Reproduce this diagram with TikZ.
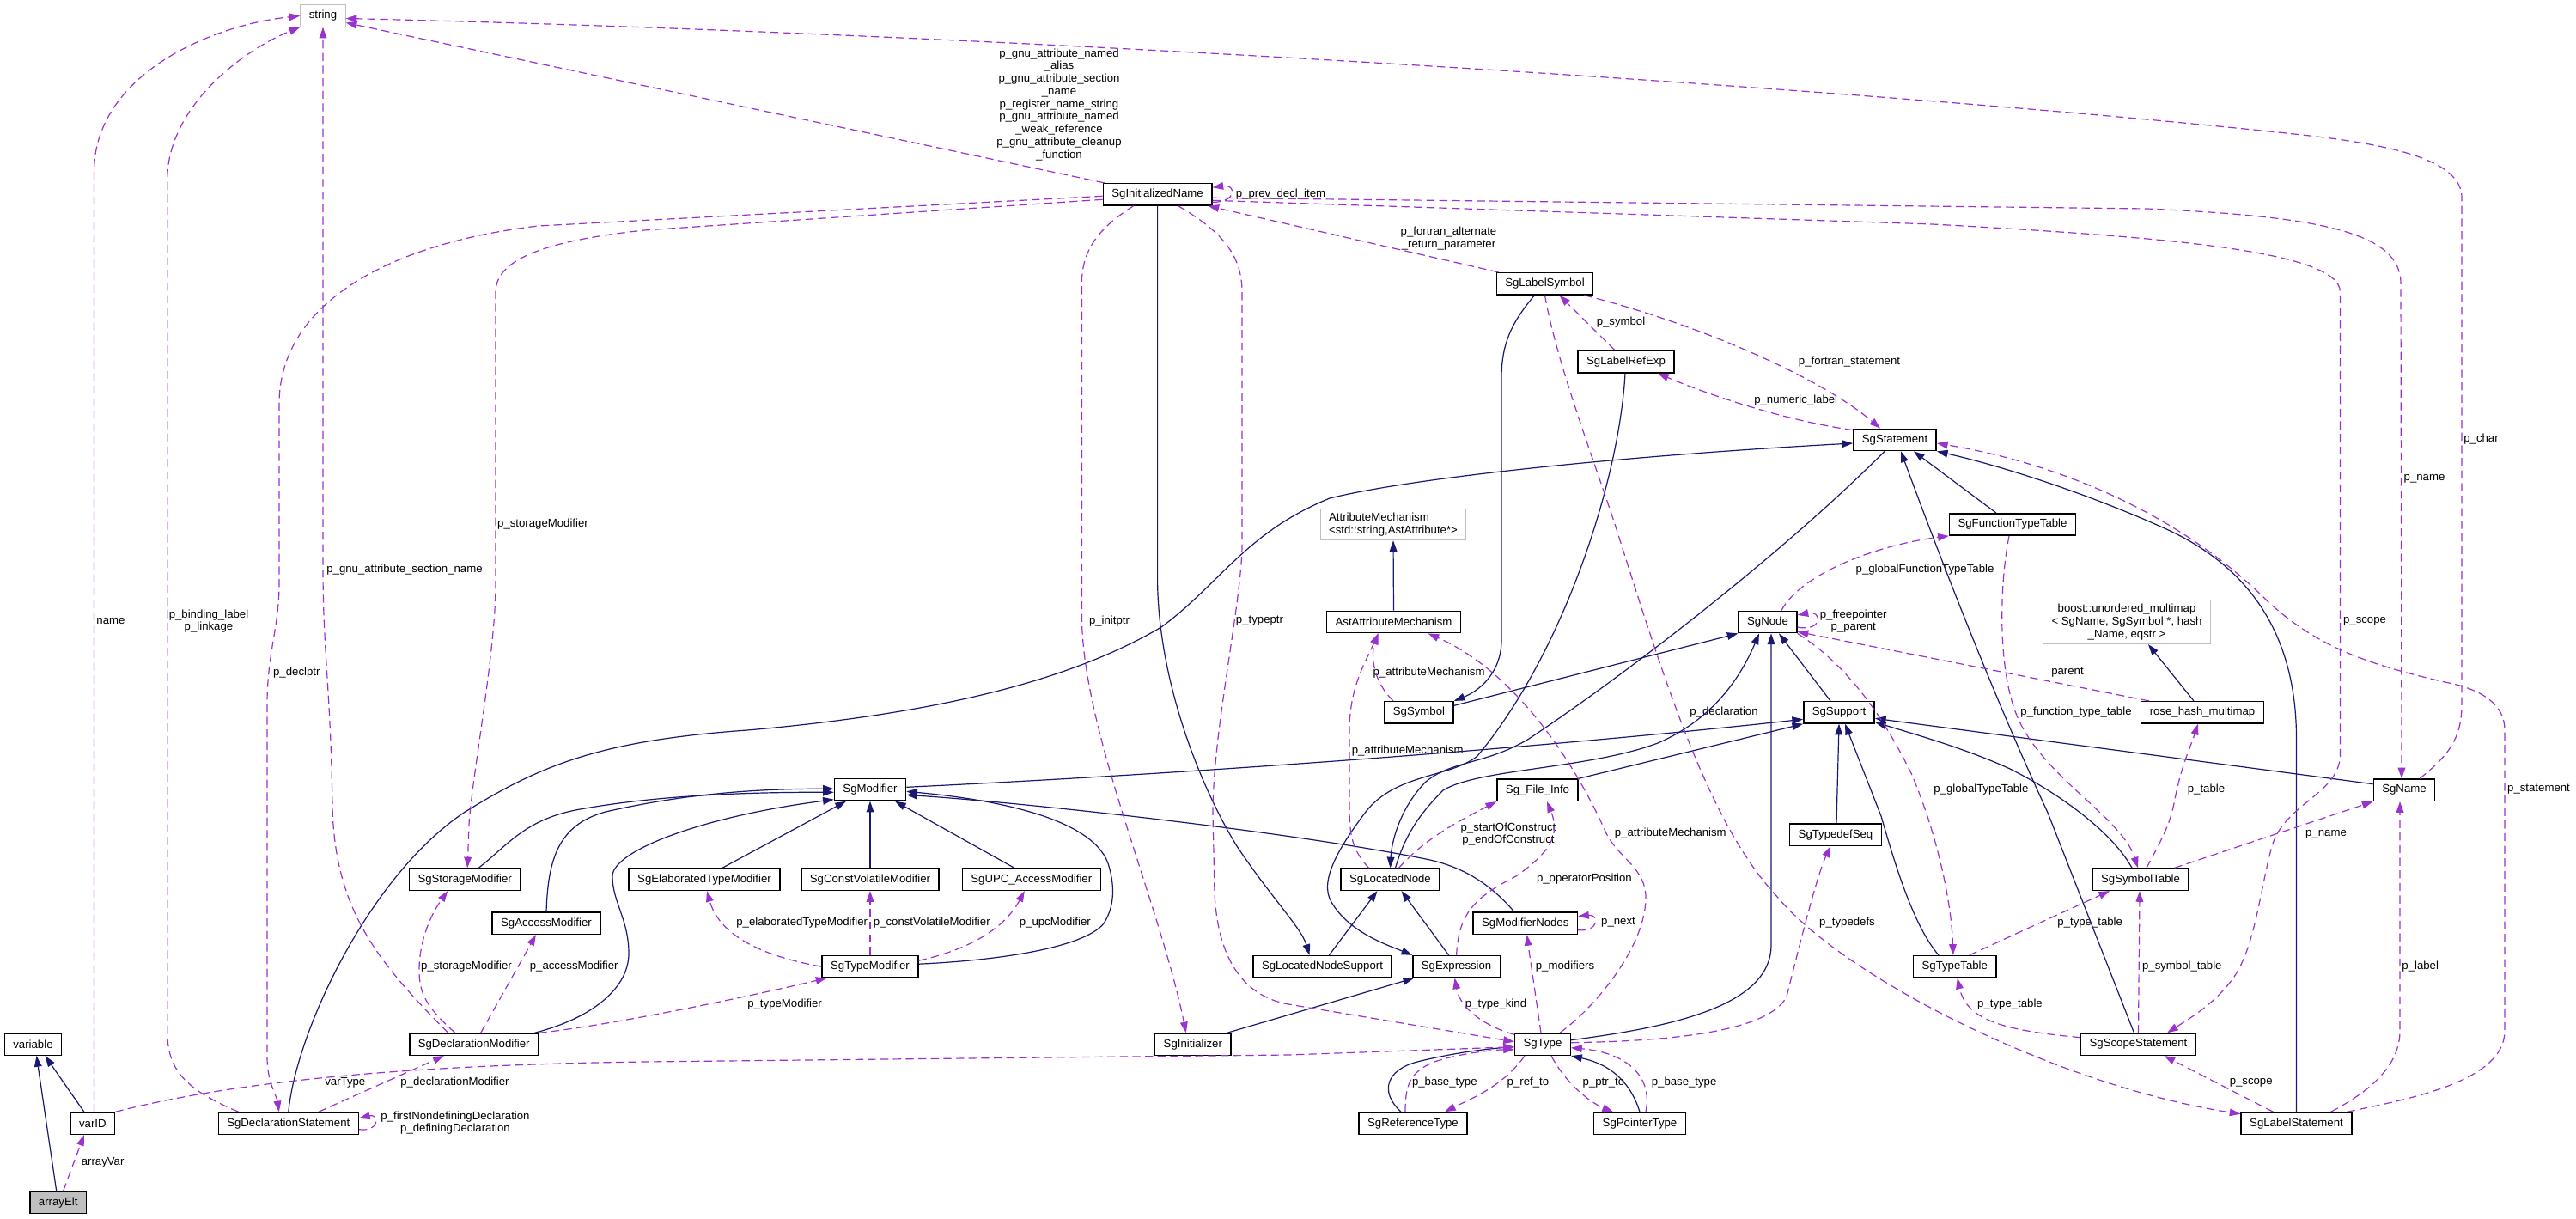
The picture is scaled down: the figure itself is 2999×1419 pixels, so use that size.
\documentclass[tikz,border=0pt]{standalone}
\usepackage{fontspec}
\setmainfont{Liberation Sans}
\usetikzlibrary{calc,arrows.meta}
\definecolor{navy}{HTML}{191970}
\definecolor{orchid}{HTML}{9A32CD}
\definecolor{extgray}{HTML}{BFBFBF}
\begin{document}
\begin{tikzpicture}[x=0.75pt, y=-0.75pt,
  every node/.style={font=\fontsize{9.9pt}{11.06pt}\selectfont},
  cls/.style={draw=black, line width=1.1pt, fill=white, minimum height=19pt, inner xsep=7.5pt, inner ysep=3.5pt},
  ext/.style={cls, draw=extgray, line width=0.9pt},
  cur/.style={cls, fill=extgray},
  inh/.style={draw=navy, line width=0.9pt, -{Triangle[length=9.5pt,width=6.5pt]}},
  use/.style={draw=orchid, line width=0.9pt, dash pattern=on 7pt off 4pt, -{Triangle[length=9.5pt,width=6.5pt]}},
  lbl/.style={inner sep=0pt, align=center}]
\fill[white] (0,0) rectangle (2999,1419);
\useasboundingbox (0,0) rectangle (2999,1419);

% classes
\node[ext] (string) at (376,18.5) {string};
\node[cls] (SgInitializedName) at (1347.6,226.3) {SgInitializedName};
\node[cls] (SgLabelSymbol) at (1798.5,330.3) {SgLabelSymbol};
\node[cls] (SgLabelRefExp) at (1893,421.2) {SgLabelRefExp};
\node[cls] (SgStatement) at (2206,512) {SgStatement};
\node[ext, align=left] (AttributeMechanism) at (1622,610.5) {AttributeMechanism\\<std::string,AstAttribute*>};
\node[cls] (SgFunctionTypeTable) at (2343,610.5) {SgFunctionTypeTable};
\node[cls] (AstAttributeMechanism) at (1622.5,724) {AstAttributeMechanism};
\node[cls] (SgNode) at (2058,724) {SgNode};
\node[ext, align=center] (boostMap) at (2476,724) {boost::unordered\_multimap\\< SgName, SgSymbol *, hash\\\_Name, eqstr >};
\node[cls] (SgSymbol) at (1652,829.3) {SgSymbol};
\node[cls] (SgSupport) at (2141,829.3) {SgSupport};
\node[cls] (roseHash) at (2564,829.3) {rose\_hash\_multimap};
\node[cls] (SgModifier) at (1013,919.3) {SgModifier};
\node[cls] (SgFileInfo) at (1790,919.7) {Sg\_File\_Info};
\node[cls] (SgName) at (2799,919.7) {SgName};
\node[cls] (SgTypedefSeq) at (2137,971.8) {SgTypedefSeq};
\node[cls] (SgStorageModifier) at (541.2,1023.7) {SgStorageModifier};
\node[cls] (SgElaboratedTypeModifier) at (820,1023.7) {SgElaboratedTypeModifier};
\node[cls] (SgConstVolatileModifier) at (1013,1023.7) {SgConstVolatileModifier};
\node[cls] (SgUPCAccessModifier) at (1200.8,1023.7) {SgUPC\_AccessModifier};
\node[cls] (SgLocatedNode) at (1618.5,1023.7) {SgLocatedNode};
\node[cls] (SgSymbolTable) at (2492,1023.7) {SgSymbolTable};
\node[cls] (SgAccessModifier) at (636,1074.7) {SgAccessModifier};
\node[cls] (SgModifierNodes) at (1775.8,1074.7) {SgModifierNodes};
\node[cls] (SgTypeModifier) at (1013,1125.2) {SgTypeModifier};
\node[cls] (SgLocatedNodeSupport) at (1539.5,1125.2) {SgLocatedNodeSupport};
\node[cls] (SgExpression) at (1695.6,1125.2) {SgExpression};
\node[cls] (SgTypeTable) at (2275.8,1125.2) {SgTypeTable};
\node[cls] (variable) at (38.5,1215.7) {variable};
\node[cls] (SgDeclarationModifier) at (551.7,1215.7) {SgDeclarationModifier};
\node[cls] (SgInitializer) at (1388.8,1215.7) {SgInitializer};
\node[cls] (SgType) at (1796,1215.7) {SgType};
\node[cls] (SgScopeStatement) at (2489.5,1215.7) {SgScopeStatement};
\node[cls] (varID) at (107.9,1307.7) {varID};
\node[cls] (SgDeclarationStatement) at (335.8,1307.7) {SgDeclarationStatement};
\node[cls] (SgReferenceType) at (1645,1307.7) {SgReferenceType};
\node[cls] (SgPointerType) at (1909,1307.7) {SgPointerType};
\node[cls] (SgLabelStatement) at (2673.5,1307.7) {SgLabelStatement};
\node[cur] (arrayElt) at (67.7,1399.7) {arrayElt};

% labels
\node[lbl] (lGnu) at (1233,121.7) {p\_gnu\_attribute\_named\\\_alias\\p\_gnu\_attribute\_section\\\_name\\p\_register\_name\_string\\p\_gnu\_attribute\_named\\\_weak\_reference\\p\_gnu\_attribute\_cleanup\\\_function};
\node[lbl] (lPrev) at (1491,226) {p\_prev\_decl\_item};
\node[lbl] (lFortranAlt) at (1686.5,277.8) {p\_fortran\_alternate\\\_return\_parameter};
\node[lbl] (lSymbol) at (1887,375) {p\_symbol};
\node[lbl] (lFortranStmt) at (2153,420.7) {p\_fortran\_statement};
\node[lbl] (lNumeric) at (2090.7,465.7) {p\_numeric\_label};
\node[lbl] (lChar) at (2888.5,510.7) {p\_char};
\node[lbl] (lNameUp) at (2822.5,557) {p\_name};
\node[lbl] (lStorageUp) at (632,610) {p\_storageModifier};
\node[lbl] (lSection) at (471,663) {p\_gnu\_attribute\_section\_name};
\node[lbl] (lGlobalFTT) at (2241,663) {p\_globalFunctionTypeTable};
\node[lbl] (lVarName) at (129,723) {name};
\node[lbl] (lBinding) at (243,723) {p\_binding\_label\\p\_linkage};
\node[lbl] (lInitptr) at (1291.5,723) {p\_initptr};
\node[lbl] (lTypeptr) at (1466.5,723) {p\_typeptr};
\node[lbl] (lParent) at (2157.7,723) {p\_freepointer\\p\_parent};
\node[lbl] (lScopeUp) at (2753,723) {p\_scope};
\node[lbl] (lDeclptr) at (345.3,783) {p\_declptr};
\node[lbl] (lAttrSym) at (1663.6,783) {p\_attributeMechanism};
\node[lbl] (lHashParent) at (2407,783) {parent};
\node[lbl] (lDeclaration) at (2007,829) {p\_declaration};
\node[lbl] (lFuncTable) at (2417,829) {p\_function\_type\_table};
\node[lbl] (lAttrLoc) at (1638.7,873.7) {p\_attributeMechanism};
\node[lbl] (lGlobalTT) at (2306.4,918.7) {p\_globalTypeTable};
\node[lbl] (lTable) at (2568.5,918.7) {p\_table};
\node[lbl] (lStatement) at (2955.5,918.7) {p\_statement};
\node[lbl] (lConstruct) at (1756,971) {p\_startOfConstruct\\p\_endOfConstruct};
\node[lbl] (lAttrType) at (1944.8,970.3) {p\_attributeMechanism};
\node[lbl] (lNameLow) at (2708,971) {p\_name};
\node[lbl] (lOperator) at (1844.4,1022.7) {p\_operatorPosition};
\node[lbl] (lElaborated) at (933.7,1073.7) {p\_elaboratedTypeModifier};
\node[lbl] (lConstVol) at (1084.8,1073.7) {p\_constVolatileModifier};
\node[lbl] (lUpc) at (1228.3,1073.7) {p\_upcModifier};
\node[lbl] (lNext) at (1884,1073.7) {p\_next};
\node[lbl] (lTypedefs) at (2150.5,1073.7) {p\_typedefs};
\node[lbl] (lTypeTableUp) at (2433.2,1073.7) {p\_type\_table};
\node[lbl] (lStorageLow) at (543,1125) {p\_storageModifier};
\node[lbl] (lAccess) at (668.2,1125) {p\_accessModifier};
\node[lbl] (lModifiers) at (1822,1125) {p\_modifiers};
\node[lbl] (lSymTable) at (2540.3,1125) {p\_symbol\_table};
\node[lbl] (lLabel) at (2817.7,1125) {p\_label};
\node[lbl] (lTypeMod) at (913.6,1169.3) {p\_typeModifier};
\node[lbl] (lTypeKind) at (1741.5,1169.3) {p\_type\_kind};
\node[lbl] (lTypeTableLow) at (2340,1169.3) {p\_type\_table};
\node[lbl] (lVarType) at (401.8,1260.3) {varType};
\node[lbl] (lDeclMod) at (529.5,1260.3) {p\_declarationModifier};
\node[lbl] (lBaseRef) at (1681.8,1260.3) {p\_base\_type};
\node[lbl] (lRefTo) at (1778.9,1260.3) {p\_ref\_to};
\node[lbl] (lPtrTo) at (1866.9,1260.3) {p\_ptr\_to};
\node[lbl] (lBasePtr) at (1960.6,1260.3) {p\_base\_type};
\node[lbl] (lScopeLow) at (2620.7,1260.3) {p\_scope};
\node[lbl] (lDefining) at (530,1307) {p\_firstNondefiningDeclaration\\p\_definingDeclaration};
\node[lbl] (lArrayVar) at (119.6,1353.3) {arrayVar};

% inheritance
\draw[inh] ($(arrayElt.north)+(-2,0)$) -- ($(variable.south)+(4,0)$);
\draw[inh] ($(varID.north)+(-10,0)$) -- ($(variable.south)+(14,0)$);
\draw[inh] (SgDeclarationStatement.north) .. controls (345,1200) and (430,1020) .. (540,946) .. controls (630,890) and (700,862) .. (870,850) .. controls (1100,830) and (1250,790) .. (1352,730) .. controls (1420,680) and (1450,620) .. (1548,580) .. controls (1650,555) and (1900,530) .. ($(SgStatement.west)+(0,4)$);
\draw[inh] ($(SgStorageModifier.north)+(16,0)$) .. controls (590,985) and (610,955) .. (670,943) .. controls (750,928) and (850,922) .. ($(SgModifier.west)+(0,3)$);
\draw[inh] (SgAccessModifier.north) .. controls (638,1000) and (650,960) .. (705,945) .. controls (780,928) and (860,918) .. ($(SgModifier.west)+(0,-1)$);
\draw[inh] ($(SgDeclarationModifier.north east)+(-5,0)$) .. controls (690,1185) and (732,1150) .. (732,1110) .. controls (732,1070) and (713,1050) .. (713,1020) .. controls (713,990) and (820,950) .. ($(SgModifier.south west)+(0,-2)$);
\draw[inh] ($(SgElaboratedTypeModifier.north)+(21,0)$) -- ($(SgModifier.south)+(-28,0)$);
\draw[inh] (SgConstVolatileModifier.north) -- (SgModifier.south);
\draw[inh] ($(SgUPCAccessModifier.north)+(-20,0)$) -- ($(SgModifier.south)+(29,0)$);
\draw[inh] ($(SgTypeModifier.east)+(0,-3)$) .. controls (1180,1117) and (1265,1100) .. (1285,1075) .. controls (1298,1055) and (1298,1030) .. (1290,1005) .. controls (1270,950) and (1150,930) .. ($(SgModifier.east)+(0,2)$);
\draw[inh] ($(SgModifierNodes.north)+(-13,0)$) .. controls (1740,1035) and (1710,1010) .. (1660,1000) .. controls (1500,968) and (1200,935) .. ($(SgModifier.east)+(0,6)$);
\draw[inh] ($(SgModifier.east)+(0,-3)$) .. controls (1400,900) and (1800,870) .. ($(SgSupport.west)+(0,8)$);
\draw[inh] (SgInitializedName.south) -- (1347.6,680) .. controls (1350,800) and (1400,920) .. (1440,985) .. controls (1480,1045) and (1515,1080) .. ($(SgLocatedNodeSupport.north)+(-15,0)$);
\draw[inh] ($(SgLocatedNodeSupport.north)+(8,0)$) -- ($(SgLocatedNode.south)+(-15,0)$);
\draw[inh] ($(SgExpression.north)+(-9,0)$) -- ($(SgLocatedNode.south)+(13,0)$);
\draw[inh] ($(SgInitializer.north east)+(-5,0)$) -- ($(SgExpression.south west)+(2,0)$);
\draw[inh] ($(SgLabelRefExp.south)+(-1,0)$) .. controls (1885,560) and (1820,760) .. (1720,880) .. controls (1690,905) and (1625,900) .. (1590,945) .. controls (1560,985) and (1535,1025) .. (1550,1050) .. controls (1570,1085) and (1615,1100) .. (SgExpression.north west);
\draw[inh] ($(SgStatement.south)+(-12,0)$) .. controls (2080,640) and (1900,780) .. (1780,860) .. controls (1730,890) and (1690,885) .. (1660,910) .. controls (1630,940) and (1620,980) .. (SgLocatedNode.north);
\draw[inh] ($(SgLocatedNode.north)+(6,0)$) .. controls (1635,975) and (1650,950) .. (1680,920) .. controls (1720,895) and (1850,895) .. (1930,865) .. controls (2000,835) and (2030,780) .. ($(SgNode.south)+(-10,0)$);
\draw[inh] ($(SgLabelSymbol.south)+(-12,0)$) .. controls (1760,375) and (1748,400) .. (1748,440) -- (1748,745) .. controls (1748,785) and (1720,805) .. (SgSymbol.north east);
\draw[inh] ($(SgSymbol.east)+(0,-8)$) -- (SgNode.south west);
\draw[inh] ($(SgSupport.north)+(-10,0)$) -- ($(SgNode.south)+(13,0)$);
\draw[inh] ($(SgType.east)+(0,-5)$) .. controls (1950,1195) and (2062,1170) .. (2062,1100) -- ($(SgNode.south)+(4,0)$);
\draw[inh] (SgFileInfo.north east) -- (SgSupport.south west);
\draw[inh] ($(SgName.west)+(0,-7)$) -- ($(SgSupport.east)+(0,7)$);
\draw[inh] ($(SgSymbolTable.north)+(-10,0)$) .. controls (2460,970) and (2400,925) .. (2340,895) .. controls (2290,872) and (2230,855) .. ($(SgSupport.south east)+(0,-2)$);
\draw[inh] ($(SgTypedefSeq.north)+(1,0)$) -- (SgSupport.south);
\draw[inh] ($(SgTypeTable.north west)+(30,0)$) .. controls (2230,1080) and (2210,1020) .. (2190,950) -- ($(SgSupport.south)+(7,0)$);
\draw[inh] ($(SgFunctionTypeTable.north)+(-19,0)$) -- ($(SgStatement.south east)+(-27,0)$);
\draw[inh] ($(SgScopeStatement.north)+(-5,0)$) -- (2384,946) .. controls (2330,830) and (2270,680) .. ($(SgStatement.south)+(7,0)$);
\draw[inh] (SgLabelStatement.north) -- (2673.5,860) .. controls (2673.5,740) and (2620,660) .. (2520,615) .. controls (2420,570) and (2320,540) .. (SgStatement.south east);
\draw[inh] ($(roseHash.north)+(-10,0)$) -- ($(boostMap.south)+(25,0)$);
\draw[inh] (AstAttributeMechanism.north) -- (AttributeMechanism.south);
\draw[inh] ($(SgReferenceType.north)+(-14,0)$) .. controls (1605,1270) and (1615,1245) .. (1650,1236) .. controls (1690,1226) and (1730,1221) .. ($(SgType.west)+(0,3)$);
\draw[inh] (SgPointerType.north) .. controls (1900,1265) and (1880,1240) .. (SgType.south east);

% members
\draw[use] ($(arrayElt.north)+(6,0)$) -- ($(varID.south)+(-10,0)$);
\draw[use] ($(varID.north)+(1.6,0)$) -- (109.5,200) .. controls (109.5,90) and (240,30) .. (string.west);
\draw[use] ($(SgDeclarationStatement.north)+(-58,0)$) .. controls (215,1268) and (194.7,1245) .. (194.7,1200) -- (194.7,210) .. controls (194.7,120) and (290,55) .. (string.south west);
\draw[use] ($(SgDeclarationModifier.north)+(-30,0)$) .. controls (440,1120) and (390,1060) .. (387,940) .. controls (385,800) and (376,760) .. (376,660) -- (string.south);
\draw[use] ($(SgInitializedName.north west)+(2,0)$) -- ($(string.east)+(0,8)$);
\draw[use] ($(SgName.north)+(18,0)$) .. controls (2850,880) and (2866,860) .. (2866,820) -- (2866,230) .. controls (2866,185) and (2780,168) .. (2680,157) .. controls (2200,105) and (1200,40) .. ($(string.east)+(0,3)$);
\draw[use] (varID.north east) .. controls (260,1262) and (450,1240) .. (750,1236) -- (1500,1228) -- ($(SgType.west)+(0,3)$);
\draw[use] ($(SgDeclarationStatement.north)+(35,0)$) -- ($(SgDeclarationModifier.south)+(-35,0)$);
\draw[use] ($(SgDeclarationStatement.east)+(0,7)$) .. controls (442,1318) and (442,1296) .. ($(SgDeclarationStatement.east)+(0,-6)$);
\draw[use] ($(SgInitializedName.west)+(0,2)$) -- (626.6,263) .. controls (440,285) and (325,360) .. (325,470) -- (325,680) .. controls (325,730) and (311,760) .. (311,820) -- (311,1230) .. controls (311,1260) and (322,1275) .. ($(SgDeclarationStatement.north)+(-11,0)$);
\draw[use] ($(SgInitializedName.west)+(0,6)$) -- (750,268) .. controls (640,280) and (577,300) .. (577,340) -- (577,680) .. controls (577,760) and (550,900) .. (546,960) -- ($(SgStorageModifier.north)+(3,0)$);
\draw[use] ($(SgDeclarationModifier.north)+(-22,0)$) .. controls (500,1175) and (488,1160) .. (488,1130) .. controls (488,1090) and (505,1060) .. ($(SgStorageModifier.south)+(-20,0)$);
\draw[use] ($(SgDeclarationModifier.north)+(8,0)$) -- ($(SgAccessModifier.south)+(-12,0)$);
\draw[use] (SgDeclarationModifier.north east) .. controls (700,1195) and (850,1165) .. ($(SgTypeModifier.south west)+(6,0)$);
\draw[use] (SgTypeModifier.west) .. controls (870,1110) and (835,1080) .. ($(SgElaboratedTypeModifier.south)+(3,0)$);
\draw[use] (SgTypeModifier.north) -- (SgConstVolatileModifier.south);
\draw[use] ($(SgTypeModifier.east)+(0,-7)$) .. controls (1130,1105) and (1170,1080) .. ($(SgUPCAccessModifier.south)+(-8,0)$);
\draw[use] ($(SgInitializedName.south)+(-28,0)$) .. controls (1280,265) and (1259.4,290) .. (1259.4,330) -- (1259.4,716) .. controls (1259.4,850) and (1350,1050) .. ($(SgInitializer.north)+(-8,0)$);
\draw[use] ($(SgInitializedName.south)+(24,0)$) .. controls (1420,268) and (1446,295) .. (1446,340) -- (1446,633) .. controls (1446,700) and (1412,850) .. (1412,946) -- (1414,1040) .. controls (1418,1120) and (1450,1160) .. (1500,1169) -- ($(SgType.west)+(0,-3)$);
\draw[use] ($(SgLabelSymbol.north west)+(3,0)$) -- ($(SgInitializedName.south east)+(-5,0)$);
\draw[use] ($(SgInitializedName.east)+(0,9)$) .. controls (1440,236) and (1440,214) .. ($(SgInitializedName.east)+(0,-8)$);
\draw[use] ($(SgInitializedName.east)+(0,4)$) -- (2500,243) .. controls (2700,252) and (2795,270) .. (2795,330) -- ($(SgName.north)+(-3,0)$);
\draw[use] ($(SgInitializedName.east)+(0,7)$) -- (2250,261) .. controls (2500,275) and (2724.5,290) .. (2724.5,340) -- (2724.5,880) .. controls (2722,925) and (2660,935) .. (2645,985) .. controls (2630,1040) and (2625,1110) .. (2595,1145) .. controls (2575,1170) and (2550,1185) .. ($(SgScopeStatement.north east)+(-34,0)$);
\draw[use] (SgLabelSymbol.south) .. controls (1812,420) and (1850,520) .. (1880,610) .. controls (1940,800) and (1990,960) .. (2070,1045) .. controls (2150,1140) and (2400,1265) .. ($(SgLabelStatement.west)+(0,-11)$);
\draw[use] ($(SgLabelSymbol.south east)+(-11,0)$) .. controls (1980,378) and (2120,440) .. ($(SgStatement.north)+(-17,0)$);
\draw[use] ($(SgLabelRefExp.north)+(-13,0)$) -- ($(SgLabelSymbol.south)+(17,0)$);
\draw[use] ($(SgStatement.north west)+(0,2)$) .. controls (2080,490) and (1990,460) .. ($(SgLabelRefExp.south)+(37,0)$);
\draw[use] ($(SgLabelStatement.north east)+(-6,0)$) .. controls (2800,1280) and (2916,1260) .. (2916,1200) -- (2916,850) .. controls (2916,820) and (2890,805) .. (2860,797) .. controls (2760,775) and (2700,755) .. (2640,700) .. controls (2540,600) and (2400,540) .. ($(SgStatement.east)+(0,4)$);
\draw[use] ($(SgLabelStatement.north)+(-27,0)$) -- ($(SgScopeStatement.south)+(30,0)$);
\draw[use] ($(SgLabelStatement.north)+(40,0)$) .. controls (2760,1270) and (2794,1240) .. (2794,1200) -- ($(SgName.south)+(-5,0)$);
\draw[use] ($(SgSymbolTable.north east)+(-17,0)$) -- (SgName.south west);
\draw[use] ($(SgSymbolTable.north)+(7,0)$) .. controls (2515,980) and (2527,960) .. (2532,930) .. controls (2540,890) and (2550,870) .. ($(roseHash.south)+(-5,0)$);
\draw[use] ($(SgFunctionTypeTable.south)+(-4,0)$) .. controls (2328,680) and (2326,770) .. (2345,825) .. controls (2370,900) and (2470,950) .. ($(SgSymbolTable.north)+(-3,0)$);
\draw[use] ($(SgTypeTable.north)+(17,0)$) -- ($(SgSymbolTable.south)+(-36,0)$);
\draw[use] (SgScopeStatement.north) -- ($(SgSymbolTable.south)+(-1,0)$);
\draw[use] ($(SgScopeStatement.west)+(0,-8)$) .. controls (2340,1200) and (2290,1190) .. ($(SgTypeTable.south)+(3,0)$);
\draw[use] (SgNode.south east) .. controls (2160,780) and (2200,850) .. (2225,900) .. controls (2255,970) and (2272,1050) .. ($(SgTypeTable.north)+(-2,0)$);
\draw[use] ($(SgNode.north)+(16,0)$) .. controls (2095,670) and (2180,635) .. (SgFunctionTypeTable.south west);
\draw[use] ($(SgNode.east)+(0,6)$) .. controls (2122,736) and (2122,710) .. ($(SgNode.east)+(0,-8)$);
\draw[use] ($(roseHash.north west)+(10,0)$) -- ($(SgNode.south east)+(0,-2)$);
\draw[use] ($(SgLocatedNode.north)+(10,0)$) .. controls (1660,975) and (1700,955) .. (SgFileInfo.south west);
\draw[use] (SgExpression.north) .. controls (1698,1065) and (1715,1045) .. (1765,1020) .. controls (1800,995) and (1818,975) .. ($(SgFileInfo.south)+(11,0)$);
\draw[use] ($(SgModifierNodes.east)+(0,8)$) .. controls (1862,1085) and (1862,1064) .. ($(SgModifierNodes.east)+(0,-8)$);
\draw[use] ($(SgType.north)+(-2,0)$) -- ($(SgModifierNodes.south)+(1.6,0)$);
\draw[use] ($(SgType.north west)+(0,2)$) .. controls (1730,1195) and (1700,1175) .. ($(SgExpression.south)+(-2,0)$);
\draw[use] ($(SgType.north)+(20,0)$) .. controls (1860,1170) and (1916,1100) .. (1916,1045) .. controls (1916,1010) and (1885,1000) .. (1870,970) .. controls (1830,880) and (1760,780) .. ($(AstAttributeMechanism.south)+(40,0)$);
\draw[use] ($(SgSymbol.north)+(-30,0)$) .. controls (1600,795) and (1595,765) .. ($(AstAttributeMechanism.south)+(-18,0)$);
\draw[use] ($(SgLocatedNode.north)+(-25,0)$) .. controls (1575,990) and (1571,975) .. (1571,940) -- (1571,850) .. controls (1571,800) and (1590,770) .. ($(AstAttributeMechanism.south)+(-18,0)$);
\draw[use] ($(SgType.east)+(0,-2)$) .. controls (1950,1212) and (2060,1200) .. (2080,1160) .. controls (2095,1100) and (2115,1020) .. ($(SgTypedefSeq.south)+(-6,0)$);
\draw[use] ($(SgType.south)+(-21,0)$) .. controls (1750,1265) and (1710,1280) .. ($(SgReferenceType.north)+(37,0)$);
\draw[use] ($(SgReferenceType.north)+(-9,0)$) .. controls (1636,1265) and (1640,1248) .. (1670,1236) .. controls (1700,1226) and (1740,1222) .. ($(SgType.west)+(0,6)$);
\draw[use] ($(SgType.south)+(10,0)$) .. controls (1825,1265) and (1855,1285) .. ($(SgPointerType.north)+(-31,0)$);
\draw[use] ($(SgPointerType.north)+(7,0)$) .. controls (1925,1250) and (1890,1225) .. ($(SgType.east)+(0,4)$);
\end{tikzpicture}
\end{document}
